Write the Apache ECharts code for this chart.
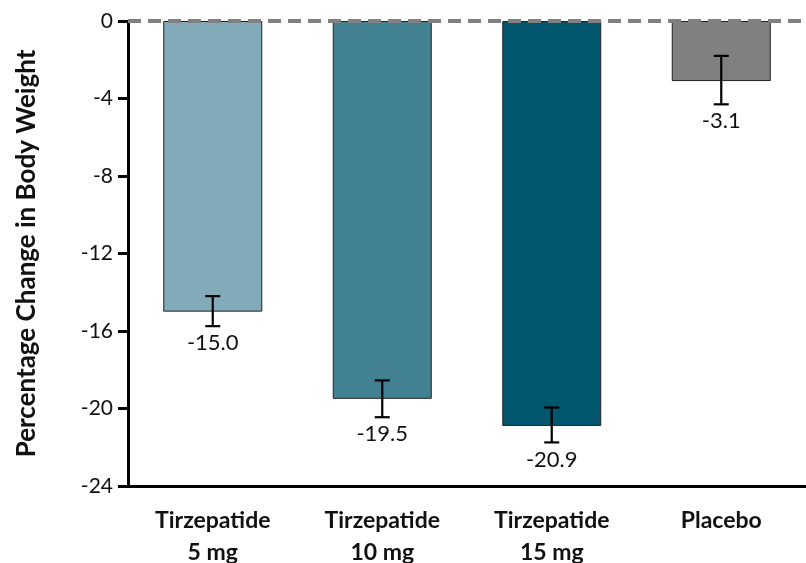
<!DOCTYPE html>
<html>
<head>
<meta charset="utf-8">
<script src="https://cdn.jsdelivr.net/npm/echarts@6/dist/echarts.min.js"></script>
<style>
  html, body { margin: 0; padding: 0; background: #fff; }
  #chart { width: 806px; height: 563px; }
</style>
</head>
<body>
<div id="chart"></div>
<script>
// categories and values
var categories = ["Tirzepatide\n5 mg", "Tirzepatide\n10 mg", "Tirzepatide\n15 mg", "Placebo"];
var values = [-15.0, -19.5, -20.9, -3.1];
var errLow = [-15.75, -20.45, -21.75, -4.3];
var errHigh = [-14.2, -18.55, -19.95, -1.8];
var barColors = ["#82aab8", "#428191", "#02576f", "#808080"];
var yTicks = [-24, -20, -16, -12, -8, -4, 0];

var font = "Lato, 'Open Sans', sans-serif";

var chart = echarts.init(document.getElementById("chart"));

chart.setOption({
  animation: false,
  grid: { left: 128, right: 0, top: 21, bottom: 77, outerBoundsMode: "none", containLabel: false },
  xAxis: {
    type: "category",
    data: categories,
    axisLine: { onZero: false, lineStyle: { color: "#000", width: 3 } },
    axisTick: { alignWithLabel: true, length: 12, lineStyle: { color: "#000", width: 3 } },
    axisLabel: {
      color: "#111",
      fontFamily: font,
      fontWeight: "bold",
      fontSize: 23,
      lineHeight: 32,
      margin: 19
    }
  },
  yAxis: {
    type: "value",
    min: yTicks[0],
    max: yTicks[yTicks.length - 1],
    interval: 4,
    name: "Percentage Change in Body Weight",
    nameLocation: "middle",
    nameGap: 88,
    nameTextStyle: { color: "#111", fontFamily: font, fontWeight: "bold", fontSize: 26 },
    axisLine: { show: true, lineStyle: { color: "#000", width: 3 } },
    axisTick: { show: true, length: 10, lineStyle: { color: "#000", width: 3 } },
    axisLabel: { color: "#111", fontFamily: font, fontSize: 21, margin: 15 },
    splitLine: { show: false }
  },
  series: [
    {
      type: "bar",
      barWidth: 99,
      data: values.map(function (v, i) {
        return { value: v, itemStyle: { color: barColors[i] } };
      }),
      itemStyle: { borderColor: "#222", borderWidth: 1 },
      markLine: {
        silent: true,
        symbol: "none",
        label: { show: false },
        lineStyle: { color: "#808080", type: [13, 7], width: 4 },
        data: [{ yAxis: 0 }],
        z: 10
      }
    },
    {
      // 误差线 + 数值
      type: "custom",
      z: 5,
      data: values.map(function (v, i) {
        return [i, errLow[i], errHigh[i], v];
      }),
      renderItem: function (params, api) {
        var lo = api.coord([api.value(0), api.value(1)]);
        var hi = api.coord([api.value(0), api.value(2)]);
        var x = lo[0];
        var cap = 7.5;
        var style = { stroke: "#000", lineWidth: 2.2 };
        return {
          type: "group",
          children: [
            { type: "line", shape: { x1: x, y1: hi[1], x2: x, y2: lo[1] }, style: style },
            { type: "line", shape: { x1: x - cap, y1: hi[1], x2: x + cap, y2: hi[1] }, style: style },
            { type: "line", shape: { x1: x - cap, y1: lo[1], x2: x + cap, y2: lo[1] }, style: style },
            {
              type: "text",
              x: x,
              y: lo[1] + 6,
              style: {
                text: api.value(3).toFixed(1),
                fill: "#111",
                font: "22px " + font,
                align: "center",
                verticalAlign: "top"
              }
            }
          ]
        };
      }
    }
  ]
});
</script>
</body>
</html>
